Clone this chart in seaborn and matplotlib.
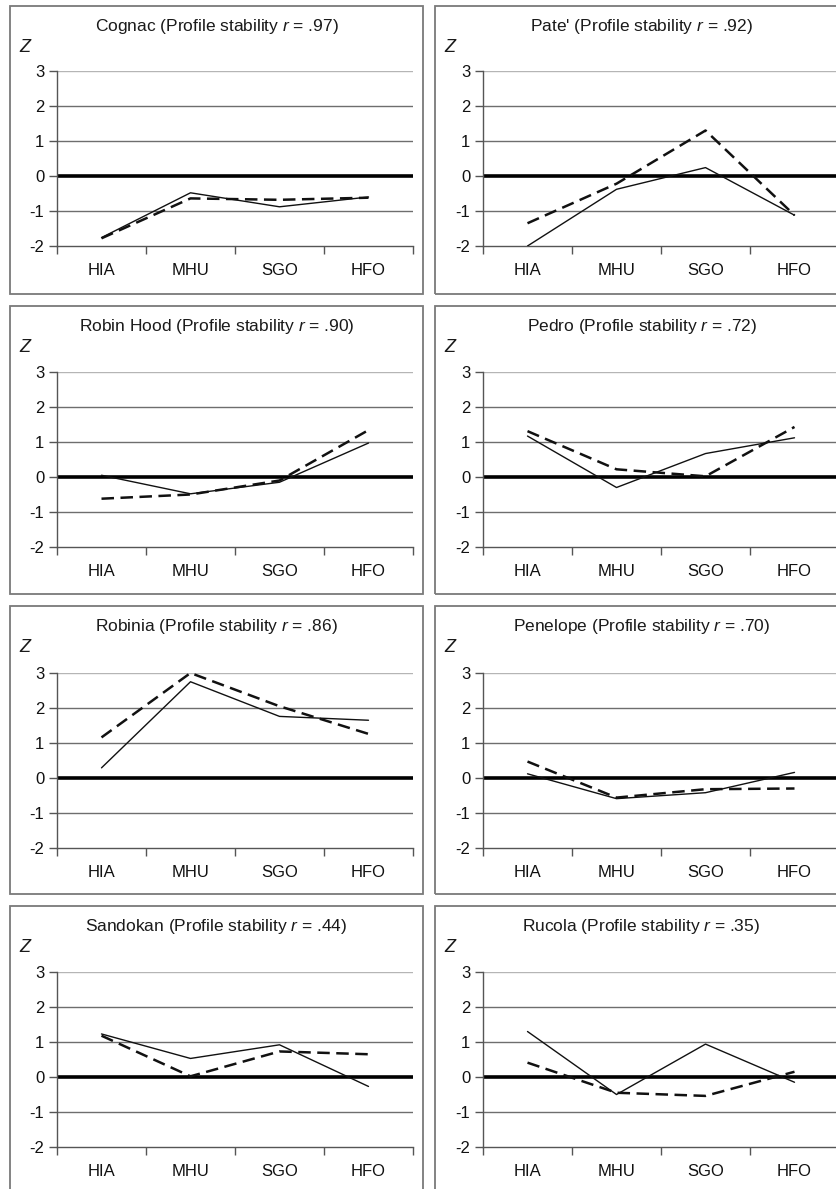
import numpy as np
import pandas as pd
import matplotlib
matplotlib.use("Agg")
import matplotlib.pyplot as plt
from matplotlib.patches import Rectangle
import seaborn as sns

sns.set_theme(style="white")
plt.rcParams['font.family'] = ['Liberation Sans', 'DejaVu Sans']
plt.rcParams['mathtext.fontset'] = 'custom'
plt.rcParams['mathtext.rm'] = 'Liberation Sans'
plt.rcParams['mathtext.it'] = 'Liberation Sans:italic'
plt.rcParams['axes.unicode_minus'] = False

# data
scales = ["HIA", "MHU", "SGO", "HFO"]
names = ["Cognac", "Pate'", "Robin Hood", "Pedro",
         "Robinia", "Penelope", "Sandokan", "Rucola"]
stability = [".97", ".92", ".90", ".72", ".86", ".70", ".44", ".35"]

solid_vals = [
    [-1.76, -0.48, -0.88, -0.60],
    [-2.00, -0.38, 0.24, -1.12],
    [0.05, -0.48, -0.15, 0.97],
    [1.17, -0.30, 0.67, 1.12],
    [0.29, 2.75, 1.76, 1.65],
    [0.12, -0.59, -0.42, 0.16],
    [1.23, 0.53, 0.92, -0.27],
    [1.30, -0.50, 0.94, -0.15],
]
dashed_vals = [
    [-1.78, -0.64, -0.68, -0.62],
    [-1.35, -0.22, 1.30, -1.12],
    [-0.62, -0.50, -0.10, 1.34],
    [1.31, 0.22, 0.02, 1.43],
    [1.16, 3.00, 2.05, 1.26],
    [0.47, -0.56, -0.32, -0.30],
    [1.18, 0.02, 0.73, 0.65],
    [0.41, -0.45, -0.54, 0.15],
]

W, H = 836, 1189
fig = plt.figure(figsize=(W / 100, H / 100), dpi=100)

col_x = [57, 483]
row_top = [71, 372, 673, 972]
ax_w, ax_h = 356, 175
box_x = [10, 435]
box_top = [6, 306, 606, 906]
box_w, box_h = 413, 288

for i, name in enumerate(names):
    r, c = divmod(i, 2)

    # panel frame
    fig.patches.append(Rectangle((box_x[c] / W, 1 - (box_top[r] + box_h) / H),
                                 box_w / W, box_h / H, transform=fig.transFigure,
                                 fill=False, edgecolor="#7a7a7a", linewidth=1.3))

    ax = fig.add_axes([col_x[c] / W, 1 - (row_top[r] + ax_h) / H, ax_w / W, ax_h / H])
    df = pd.DataFrame({"scale": scales, "solid": solid_vals[i], "dashed": dashed_vals[i]})

    for y in [-1, 1, 2]:
        ax.axhline(y, color="#6e6e6e", linewidth=1.0, zorder=1)
    ax.axhline(3, color="#b5b5b5", linewidth=1.0, zorder=1)
    ax.axhline(0, color="black", linewidth=2.6, zorder=2)

    sns.lineplot(data=df, x="scale", y="solid", sort=False, ax=ax,
                 color="#111111", linewidth=1.0, zorder=3)
    sns.lineplot(data=df, x="scale", y="dashed", sort=False, ax=ax,
                 color="#111111", linewidth=1.8, linestyle=(0, (5, 2.6)), zorder=4)

    ax.set_xlim(-0.5, 3.5)
    ax.set_ylim(-2, 3)
    ax.set_xlabel("")
    ax.set_ylabel("")
    ax.set_yticks([-2, -1, 0, 1, 2, 3])
    ax.set_xticks(range(4))
    ax.set_xticklabels(scales)
    ax.set_xticks(np.arange(-0.5, 4.0, 1.0), minor=True)
    ax.tick_params(axis="x", which="major", length=0, pad=12, labelsize=12,
                   labelcolor="#111111")
    ax.tick_params(axis="x", which="minor", length=6, width=1, color="#555555",
                   direction="out", bottom=True)
    ax.tick_params(axis="y", length=6, width=1, color="#555555", direction="out",
                   left=True, pad=3, labelsize=12, labelcolor="#111111")
    for side in ["top", "right"]:
        ax.spines[side].set_visible(False)
    for side in ["left", "bottom"]:
        ax.spines[side].set_color("#555555")
        ax.spines[side].set_linewidth(1.0)

    fig.text((box_x[c] + box_w / 2) / W, 1 - (box_top[r] + 21) / H,
             f"{name} (Profile stability $\\mathit{{r}}$ = {stability[i]})",
             ha="center", va="center", fontsize=12.5, color="#1a1a1a")
    fig.text((box_x[c] + 15) / W, 1 - (box_top[r] + 41) / H, "Z",
             ha="center", va="center", fontsize=13, style="italic", color="#1a1a1a")

fig.savefig("out.png", dpi=100)
